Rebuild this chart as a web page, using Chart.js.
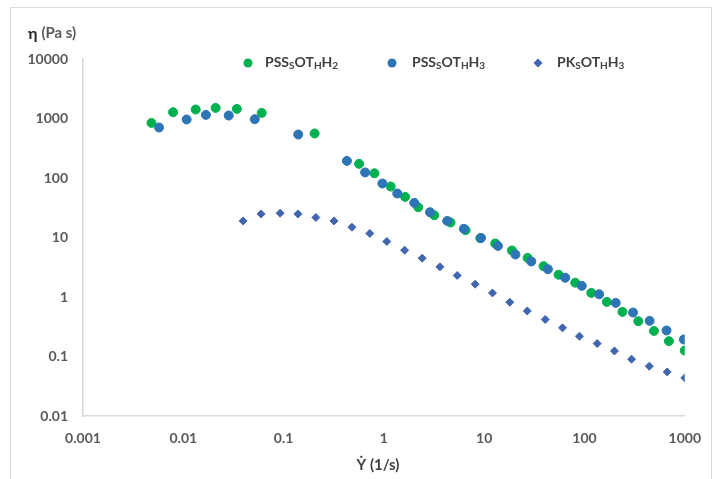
<!DOCTYPE html>
<html>
<head>
<meta charset="utf-8">
<script src="https://cdn.jsdelivr.net/npm/chart.js@4.4.1/dist/chart.umd.min.js"></script>
<style>
  html, body { margin: 0; padding: 0; background: #fff; }
  #wrap { position: relative; width: 715px; height: 479px; }
</style>
</head>
<body>
<div id="wrap"><canvas id="myChart"></canvas></div>
<script>
// axis ticks
const xTickValues = [0.001, 0.01, 0.1, 1, 10, 100, 1000];
const xTickLabels = ['0.001', '0.01', '0.1', '1', '10', '100', '1000'];
const yTickValues = [0.01, 0.1, 1, 10, 100, 1000, 10000];
const yTickLabels = ['0.01', '0.1', '1', '10', '100', '1000', '10000'];

// PSS_S OT_H H_2 (green)
const h2Rate = [0.00482, 0.00791, 0.0133, 0.0210, 0.0342, 0.0605, 0.204, 0.566, 0.805, 1.17, 1.63, 2.20, 3.18, 4.62, 6.52,
  9.15, 12.9, 18.9, 27.1, 39.1, 55.2, 80.9, 117, 167, 239, 344, 493, 695, 1000];
const h2Visc = [843, 1276, 1416, 1507, 1449, 1242, 560, 173, 120, 71.9, 48.1, 32.3, 23.7, 17.9, 13.3,
  9.73, 7.93, 6.05, 4.54, 3.30, 2.37, 1.74, 1.17, 0.828, 0.562, 0.392, 0.269, 0.181, 0.126];

// PSS_S OT_H H_3 (blue)
const h3Rate = [0.00573, 0.0108, 0.0168, 0.0284, 0.0516, 0.140, 0.428, 0.650, 0.966, 1.36, 2.01, 2.88, 4.28, 6.27,
  9.31, 13.7, 20.5, 29.5, 43.2, 64.3, 94.0, 140, 205, 305, 446, 658, 980];
const h3Visc = [706, 962, 1150, 1123, 973, 538, 194, 124, 80.8, 54.9, 38.2, 26.6, 19.0, 14.0,
  9.84, 7.23, 5.18, 3.95, 2.93, 2.11, 1.54, 1.11, 0.796, 0.548, 0.397, 0.274, 0.193];

// PK_S OT_H H_3 (diamonds)
const pkRate = [0.0395, 0.0597, 0.0923, 0.139, 0.210, 0.318, 0.480, 0.724, 1.07, 1.61, 2.41, 3.62, 5.38, 8.13,
  12.1, 18.0, 26.9, 40.6, 60.4, 89.1, 134, 199, 295, 443, 668, 1000];
const pkVisc = [19.0, 24.9, 25.6, 24.9, 21.7, 19.0, 14.9, 11.7, 8.57, 6.12, 4.49, 3.21, 2.30, 1.64,
  1.17, 0.818, 0.583, 0.419, 0.303, 0.219, 0.165, 0.124, 0.0901, 0.0687, 0.0551, 0.0437];

// legend labels: [text, subscript?]
const legendLabels = [
  [['PSS', 0], ['S', 1], ['OT', 0], ['H', 1], ['H', 0], ['2', 1]],
  [['PSS', 0], ['S', 1], ['OT', 0], ['H', 1], ['H', 0], ['3', 1]],
  [['PK', 0], ['S', 1], ['OT', 0], ['H', 1], ['H', 0], ['3', 1]]
];

const GREEN = '#00B050';
const BLUE = '#2E75B6';
const DIAMOND = '#4166AF';
const FONT = 'Lato, "Open Sans", sans-serif';

const toPoints = (xs, ys) => xs.map((x, i) => ({ x, y: ys[i] }));

function drawRich(c, parts, x, y) {
  parts.forEach(([t, sub]) => {
    c.font = sub ? `bold 10px ${FONT}` : `bold 14px ${FONT}`;
    c.fillText(t, x, sub ? y + 4 : y);
    x += c.measureText(t).width;
  });
}

const decor = {
  id: 'decor',
  beforeDraw(chart) {
    const c = chart.ctx;
    c.save();
    c.strokeStyle = '#D9D9D9';
    c.lineWidth = 1;
    c.strokeRect(10.5, 7.5, 701, 490);
    c.restore();
  },
  afterDraw(chart) {
    const c = chart.ctx;
    c.save();
    c.textBaseline = 'middle';
    // y title
    c.fillStyle = '#262626';
    c.font = `bold 16px ${FONT}`;
    c.fillText('η', 28, 34);
    const w = c.measureText('η ').width;
    c.fillStyle = '#595959';
    c.font = `bold 15px ${FONT}`;
    c.fillText('(Pa s)', 28 + w, 33);
    // x title
    c.fillStyle = '#404040';
    c.textAlign = 'center';
    c.fillText('Ẏ (1/s)', 378, 465);
    c.textAlign = 'left';
    // legend
    const mk = [248, 392, 538];
    const tx = [265, 412, 557];
    const cols = [GREEN, BLUE, DIAMOND];
    legendLabels.forEach((parts, i) => {
      c.fillStyle = cols[i];
      c.beginPath();
      if (i < 2) {
        c.arc(mk[i], 63, 4.5, 0, Math.PI * 2);
      } else {
        c.moveTo(mk[i], 58.5); c.lineTo(mk[i] + 4.5, 63);
        c.lineTo(mk[i], 67.5); c.lineTo(mk[i] - 4.5, 63);
        c.closePath();
      }
      c.fill();
      c.fillStyle = '#404040';
      drawRich(c, parts, tx[i], 62);
    });
    c.restore();
  }
};

const tickFont = { family: FONT, size: 14, weight: 'bold' };

const ctx = document.getElementById('myChart').getContext('2d');
const chart = new Chart(ctx, {
  type: 'scatter',
  data: {
    datasets: [
      { label: 'PSSSOTHH2', data: toPoints(h2Rate, h2Visc), backgroundColor: GREEN, borderColor: GREEN,
        pointRadius: 4.5, borderWidth: 1, order: 2 },
      { label: 'PSSSOTHH3', data: toPoints(h3Rate, h3Visc), backgroundColor: BLUE, borderColor: BLUE,
        pointRadius: 4.5, borderWidth: 1, order: 1 },
      { label: 'PKSOTHH3', data: toPoints(pkRate, pkVisc), backgroundColor: DIAMOND, borderColor: DIAMOND,
        pointStyle: 'rectRot', pointRadius: 4, borderWidth: 1, order: 0 }
    ]
  },
  options: {
    responsive: true,
    maintainAspectRatio: false,
    animation: false,
    layout: { padding: { top: 59, right: 28, left: 0, bottom: 0 } },
    plugins: { legend: { display: false }, tooltip: { enabled: false } },
    scales: {
      x: {
        type: 'logarithmic', min: 0.001, max: 1000,
        grid: { display: false, drawTicks: false },
        border: { display: true, color: '#D9D9D9', width: 1.5 },
        afterBuildTicks: s => { s.ticks = xTickValues.map(v => ({ value: v })); },
        afterFit: s => { s.height = 63; },
        ticks: {
          font: tickFont, color: '#595959', padding: 14, maxRotation: 0, autoSkip: false,
          callback: v => xTickLabels[xTickValues.indexOf(v)] ?? ''
        }
      },
      y: {
        type: 'logarithmic', min: 0.01, max: 10000,
        grid: { display: false, drawTicks: false },
        border: { display: true, color: '#D9D9D9', width: 1.5 },
        afterBuildTicks: s => { s.ticks = yTickValues.map(v => ({ value: v })); },
        afterFit: s => { s.width = 83; },
        ticks: {
          font: tickFont, color: '#595959', padding: 15, autoSkip: false,
          callback: v => yTickLabels[yTickValues.indexOf(v)] ?? ''
        }
      }
    }
  },
  plugins: [decor]
});
</script>
</body>
</html>
